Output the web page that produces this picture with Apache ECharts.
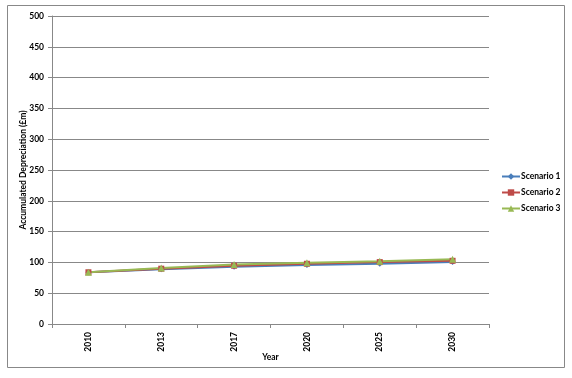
<!DOCTYPE html>
<html><head><meta charset="utf-8">
<script src="https://cdn.jsdelivr.net/npm/echarts@6/dist/echarts.min.js"></script>
<style>html,body{margin:0;padding:0;background:#fff}#c{width:572px;height:378px}</style>
</head><body><div id="c"></div>
<script>
const categories = ['2010','2013','2017','2020','2025','2030'];
const scenario1 = [84, 88.8, 93, 95.6, 97.8, 100.5];
const scenario2 = [84, 89.8, 94.6, 97.8, 100.5, 102.6];
const scenario3 = [84, 90.8, 96.7, 99.4, 102, 105];
const yTicks = {min: 0, max: 500, interval: 50};
const font = 'Lato, "Open Sans", sans-serif';
const chart = echarts.init(document.getElementById('c'));
chart.setOption({
  animation: false,
  graphic: [{type:'rect', shape:{x:7.5,y:5.5,width:557,height:362}, style:{fill:'none', stroke:'#888', lineWidth:1}, silent:true}],
  grid: {left: 52, right: 83, top: 16, bottom: 54},
  legend: {
    orient: 'vertical', left: 496, top: 167, itemGap: 7, itemWidth: 18, itemHeight: 8,
    textStyle: {fontFamily: font, fontSize: 8.5, fontWeight: 'bold', color: '#000', padding:[0,0,0,-4]},
    data: ['Scenario 1','Scenario 2','Scenario 3']
  },
  xAxis: {
    type: 'category', data: categories, boundaryGap: true,
    name: 'Year', nameLocation: 'middle', nameGap: 29, nameMoveOverlap: false,
    nameTextStyle: {fontFamily: font, fontSize: 8.5, fontWeight: 'bold', color: '#000'},
    axisLine: {lineStyle: {color: '#888'}},
    axisTick: {show: true, alignWithLabel: false, length: 4, lineStyle:{color:'#888'}},
    axisLabel: {rotate: 90, fontFamily: font, fontSize: 8.5, fontWeight: 'bold', color: '#000', margin: 8}
  },
  yAxis: {
    type: 'value', min: yTicks.min, max: yTicks.max, interval: yTicks.interval,
    name: 'Accumulated Depreciation (£m)', nameLocation: 'middle', nameGap: 24, nameMoveOverlap: false,
    nameTextStyle: {fontFamily: font, fontSize: 8.5, fontWeight: 'bold', color: '#000'},
    axisLine: {show: true, lineStyle: {color: '#888'}},
    axisTick: {show: true, length: 4, lineStyle:{color:'#888'}},
    splitLine: {lineStyle: {color: '#888', width: 1}},
    axisLabel: {fontFamily: font, fontSize: 8.5, fontWeight: 'bold', color: '#000', margin: 8}
  },
  series: [
    {name:'Scenario 1', type:'line', data: scenario1, symbol:'diamond', symbolSize:6, color:'#4a7ebb', lineStyle:{width:2}},
    {name:'Scenario 2', type:'line', data: scenario2, symbol:'rect', symbolSize:6, color:'#be4b48', lineStyle:{width:2}},
    {name:'Scenario 3', type:'line', data: scenario3, symbol:'triangle', symbolSize:7, color:'#98b954', lineStyle:{width:2}}
  ]
});
</script></body></html>
